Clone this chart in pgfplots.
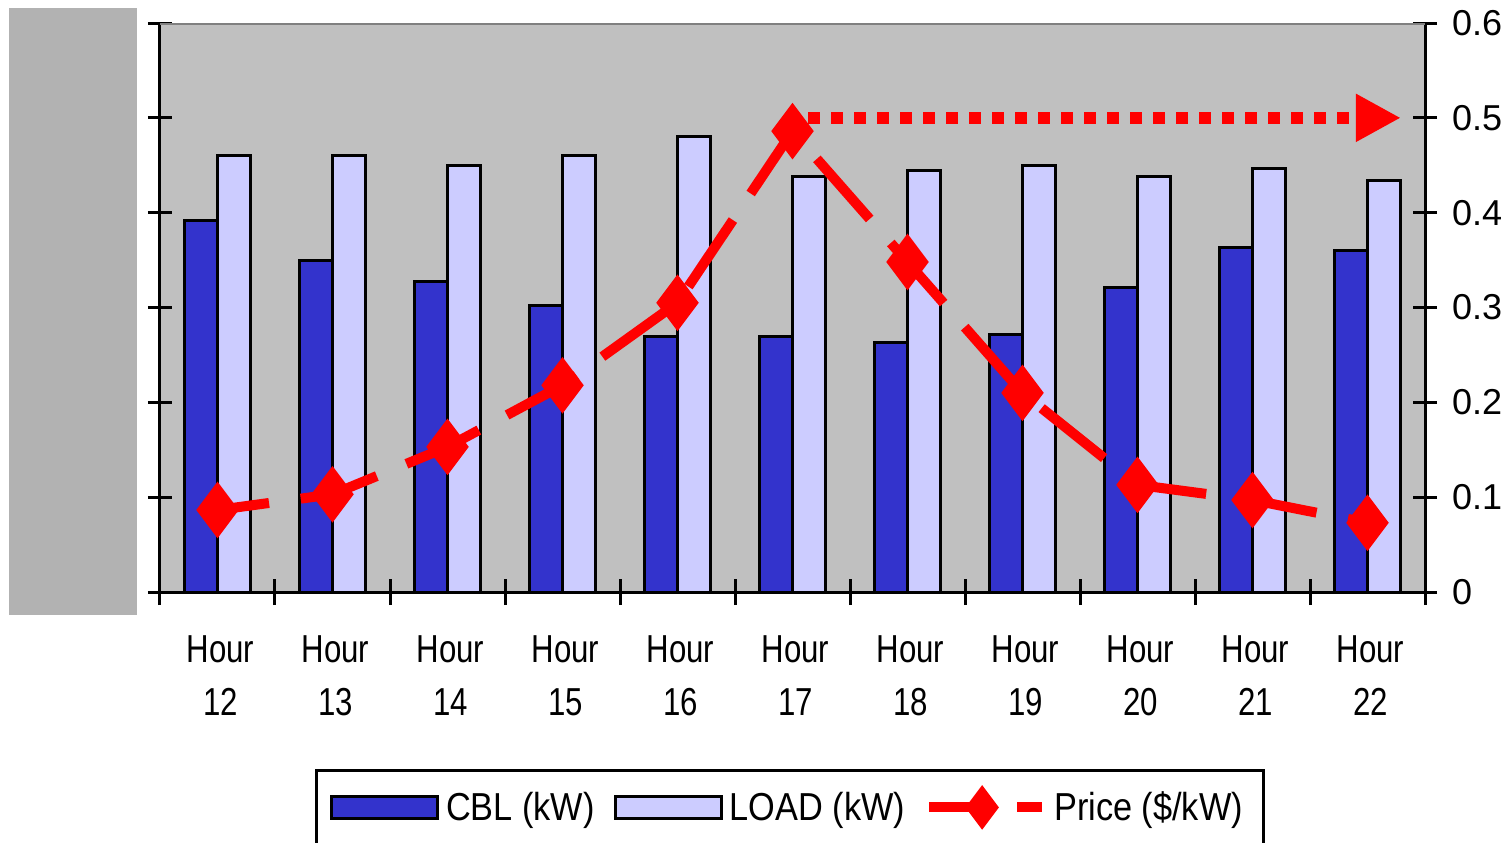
\documentclass[border=0pt]{standalone}
\usepackage{pgfplots}
\pgfplotsset{compat=1.18}
\usetikzlibrary{arrows.meta}
\usepackage{fontspec}
\setmainfont{Liberation Sans}[FakeStretch=0.88]
\newfontfamily\tickfont{Liberation Sans}
\newfontfamily\hourfont{Liberation Sans}[FakeStretch=0.8]

\definecolor{cbl}{HTML}{3333CC}
\definecolor{load}{HTML}{CCCCFF}
\definecolor{plotgray}{HTML}{C0C0C0}
\definecolor{sidegray}{HTML}{B2B2B2}
\definecolor{topgray}{HTML}{808080}
\definecolor{pricered}{HTML}{FF0000}

\pgfplotsset{
    barleg/.style={legend image code/.code={\draw[##1] (0pt,-5.5pt) rectangle (53pt,5.5pt);}},
    priceleg/.style={legend image code/.code={
        \draw[##1, dash pattern=on 24pt off 20pt, dash phase=0pt] (0pt,0pt) -- (56.5pt,0pt);
        \draw[##1, mark size=7pt] plot coordinates {(26.5pt,0pt)};}},
}

% bar heights on the price scale (0-0.6)
\pgfplotstableread{
x cbl load
0 0.392 0.460
1 0.350 0.460
2 0.327 0.450
3 0.302 0.460
4 0.269 0.480
5 0.269 0.438
6 0.263 0.444
7 0.272 0.450
8 0.321 0.438
9 0.363 0.447
10 0.360 0.434
}\bars

\begin{document}
\begin{tikzpicture}
\begin{axis}[
    name=ax,
    scale only axis, width=632.5pt, height=284.5pt,
    xmin=-0.5, xmax=10.5, ymin=0, ymax=0.6,
    axis x line=bottom, axis y line=box,
    axis line style={-, line width=1.5pt, black},
    axis background/.style={fill=plotgray},
    xtick={0,...,10},
    xticklabels={{Hour\\12},{Hour\\13},{Hour\\14},{Hour\\15},{Hour\\16},{Hour\\17},{Hour\\18},{Hour\\19},{Hour\\20},{Hour\\21},{Hour\\22}},
    minor xtick={-0.5,0.5,...,10.5},
    major x tick style={draw=none},
    ytick={0,0.1,0.2,0.3,0.4,0.5,0.6},
    yticklabels={0,0.1,0.2,0.3,0.4,0.5,0.6},
    yticklabel pos=right,
    tick align=center,
    major tick length=12pt, minor tick length=13pt,
    tick style={line width=1.5pt, black},
    /pgf/number format/assume math mode=true,
    xticklabel style={align=center, font=\hourfont\fontsize{19.5}{26.5}\selectfont,
        xshift=1.5pt, yshift=-12.5pt},
    yticklabel style={font=\tickfont\fontsize{18}{20}\selectfont, xshift=4pt},
    legend columns=3,
    legend style={at={(0.498,-0.311)}, anchor=north, draw=black, line width=1.5pt,
        fill=white, font=\fontsize{19.5}{22}\selectfont,
        inner xsep=7pt, inner ysep=8.5pt,
        nodes={inner xsep=3.5pt},
        /tikz/every even column/.append style={column sep=6pt}},
]
\addplot[ybar, bar width=0.29, bar shift=-0.145, fill=cbl, draw=black, line width=1.5pt, barleg]
    table[x=x, y=cbl] {\bars};
\addlegendentry{CBL (kW)}
\addplot[ybar, bar width=0.29, bar shift=0.145, fill=load, draw=black, line width=1.5pt, barleg]
    table[x=x, y=load] {\bars};
\addlegendentry{LOAD (kW)}
\addplot[pricered, line width=5pt, dash pattern=on 40pt off 16pt, dash phase=14pt,
    mark=diamond*, mark size=10pt, mark options={solid, draw=none, fill=pricered}, priceleg]
    coordinates {(0,0.0865) (1,0.103) (2,0.153) (3,0.218) (4,0.305) (5,0.486)
                 (6,0.348) (7,0.21) (8,0.113) (9,0.097) (10,0.073)};
\addlegendentry{Price (\$/kW)}
\addplot[pricered, line width=6pt, dash pattern=on 6pt off 5.5pt,
    -{Triangle[length=22.5pt, width=22.5pt]}, forget plot]
    coordinates {(5.135,0.5) (10.29,0.5)};
\draw[topgray, line width=1.5pt] (rel axis cs:0,1) -- (rel axis cs:1,1);
\end{axis}
\fill[sidegray] ([xshift=-75.5pt, yshift=-11.5pt]ax.south west)
    rectangle ([xshift=-11.5pt, yshift=292pt]ax.south west);
\pgfresetboundingbox
\path[use as bounding box] ([xshift=-80pt, yshift=-125pt]ax.south west)
    rectangle ([xshift=676pt, yshift=296pt]ax.south west);
\end{tikzpicture}
\end{document}
